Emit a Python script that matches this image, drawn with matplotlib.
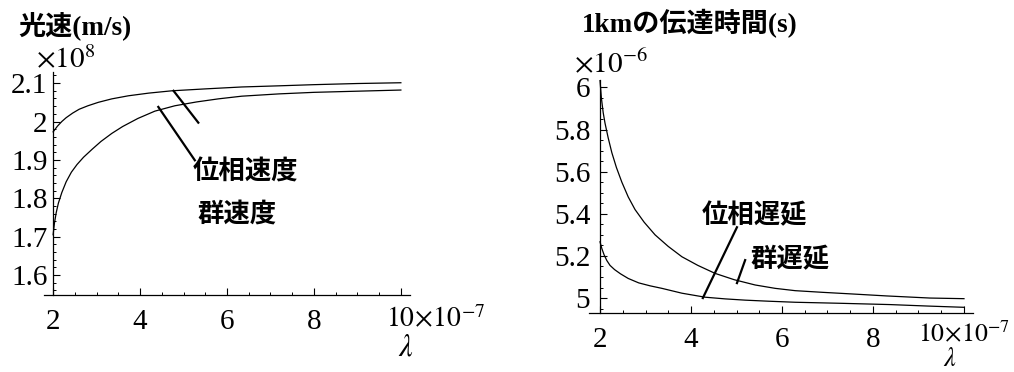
import matplotlib
matplotlib.use("Agg")
import matplotlib.pyplot as plt
from matplotlib.ticker import MultipleLocator, FixedLocator, FixedFormatter

plt.rcParams['font.family'] = ['Liberation Serif', 'Noto Sans CJK JP']
plt.rcParams['mathtext.fontset'] = 'stix'

# ------------------------------------------------------------------------------
# DATA  -- lambda in 1e-7 m, speed in 1e8 m/s, delay in 1e-6 s
# ------------------------------------------------------------------------------
lam_v_phase = [2.0, 2.1, 2.2, 2.3, 2.45, 2.6, 2.8, 3.04, 3.35, 3.73, 4.2, 4.73,
               5.5, 6.34, 7.2, 8.0, 9.0, 10.0]
v_phase = [1.973, 1.988, 2.000, 2.010, 2.022, 2.032, 2.041, 2.050, 2.059, 2.067,
           2.074, 2.080, 2.085, 2.090, 2.093, 2.096, 2.099, 2.101]

lam_v_group = [2.0, 2.03, 2.07, 2.12, 2.2, 2.3, 2.42, 2.55, 2.7, 2.9, 3.1, 3.35,
               3.6, 3.95, 4.34, 4.8, 5.3, 5.8, 6.34, 7.2, 8.0, 9.0, 10.0]
v_group = [1.705, 1.735, 1.762, 1.787, 1.815, 1.843, 1.868, 1.888, 1.907, 1.928,
           1.948, 1.969, 1.987, 2.008, 2.027, 2.041, 2.051, 2.059, 2.066, 2.072,
           2.076, 2.079, 2.082]

lam_d_group = [2.0, 2.03, 2.07, 2.11, 2.18, 2.26, 2.36, 2.48, 2.62, 2.77, 2.97,
               3.21, 3.5, 3.8, 4.15, 4.53, 4.95, 5.41, 5.85, 6.29, 6.9, 7.49,
               8.3, 9.25, 10.0]
d_group = [6.033, 5.95, 5.88, 5.83, 5.76, 5.69, 5.62, 5.55, 5.48, 5.42, 5.36,
           5.30, 5.245, 5.196, 5.155, 5.117, 5.087, 5.062, 5.046, 5.035, 5.027,
           5.020, 5.010, 5.000, 4.997]

lam_d_phase = [2.0, 2.04, 2.09, 2.15, 2.22, 2.32, 2.45, 2.62, 2.85, 3.1, 3.36,
               3.8, 4.31, 4.75, 5.19, 5.7, 6.29, 7.3, 8.37, 9.2, 10.0]
d_phase = [5.267, 5.235, 5.205, 5.178, 5.155, 5.135, 5.115, 5.093, 5.072, 5.058,
           5.046, 5.023, 5.004, 4.996, 4.990, 4.985, 4.980, 4.975, 4.969, 4.962,
           4.956]

x_ticks = [2, 4, 6, 8]
x_ticklabels = ["2", "4", "6", "8"]
v_ticks = [1.6, 1.7, 1.8, 1.9, 2.0, 2.1]
v_ticklabels = ["1.6", "1.7", "1.8", "1.9", "2", "2.1"]
d_ticks = [5.0, 5.2, 5.4, 5.6, 5.8, 6.0]
d_ticklabels = ["5", "5.2", "5.4", "5.6", "5.8", "6"]

W, H = 1014, 372
fig = plt.figure(figsize=(W / 100, H / 100), dpi=100)

def px(x0, y0, x1, y1):
    # pixel box -> figure fraction rect
    return [x0 / W, 1 - y1 / H, (x1 - x0) / W, (y1 - y0) / H]

def style_axes(ax, yticks, ylabels, yminor, ypad, xpad):
    for s in ['top', 'right']:
        ax.spines[s].set_visible(False)
    ax.spines['left'].set_position(('data', 2))
    for s in ['left', 'bottom']:
        ax.spines[s].set_linewidth(0.9)
    ax.xaxis.set_major_locator(FixedLocator(x_ticks + [10]))
    ax.xaxis.set_major_formatter(FixedFormatter(x_ticklabels + [""]))
    ax.xaxis.set_minor_locator(MultipleLocator(0.5))
    ax.yaxis.set_major_locator(FixedLocator(yticks))
    ax.yaxis.set_major_formatter(FixedFormatter(ylabels))
    ax.yaxis.set_minor_locator(MultipleLocator(yminor))
    ax.tick_params(which='major', direction='in', length=5, width=0.8, labelsize=21)
    ax.tick_params(which='minor', direction='in', length=2.5, width=0.7)
    ax.tick_params(axis='y', pad=ypad)
    ax.tick_params(axis='x', pad=xpad)

cjk = dict(family=['Noto Sans CJK JP'], fontweight='bold', fontsize=19)
mixed = dict(family=['Liberation Serif', 'Noto Sans CJK JP'], fontweight='bold', fontsize=19.5)

# ------------------------------------------------------------------------------
# LEFT: speed
# ------------------------------------------------------------------------------
ax1 = fig.add_axes(px(44, 72, 410, 295))
ax1.set_xlim(1.79, 10.21)
ax1.set_ylim(1.548, 2.129)
ax1.plot(lam_v_phase, v_phase, color='black', lw=0.9)
ax1.plot(lam_v_group, v_group, color='black', lw=0.9)
style_axes(ax1, v_ticks, v_ticklabels, 0.02, 4, 10)

ax1.plot([4.42, 5.26], [2.038, 1.899], color='black', lw=1.6)
ax1.plot([4.77, 5.34], [2.080, 1.997], color='black', lw=1.6)
ax1.text(5.22, 1.868, "位相速度", ha='left', va='center', **cjk)
ax1.text(5.31, 1.759, "群速度", ha='left', va='center', **cjk)

fig.text(18 / W, 1 - 26 / H, "光速(m/s)", ha='left', va='center', **mixed)
fig.text(36 / W, 1 - 60 / H, r"$\times 10^{8}$", ha='left', va='center', fontsize=21)
fig.text(386 / W, 1 - 320 / H, r"$10\!\times\! 10^{-7}$", ha='left', va='center', fontsize=20)
fig.text(406 / W, 1 - 348 / H, r"$\lambda$", ha='center', va='center', fontsize=22)

# ------------------------------------------------------------------------------
# RIGHT: delay per 1 km
# ------------------------------------------------------------------------------
ax2 = fig.add_axes(px(589, 80, 973, 313))
ax2.set_xlim(1.758, 10.198)
ax2.set_ylim(4.929, 6.035)
ax2.plot(lam_d_group, d_group, color='black', lw=0.9)
ax2.plot(lam_d_phase, d_phase, color='black', lw=0.9)
style_axes(ax2, d_ticks, d_ticklabels, 0.05, 7, 10)

ax2.plot([4.26, 5.01], [5.0, 5.336], color='black', lw=1.6)
ax2.plot([5.01, 5.19], [5.071, 5.180], color='black', lw=1.6)
ax2.text(4.24, 5.389, "位相遅延", ha='left', va='center', **cjk)
ax2.text(5.30, 5.180, "群遅延", ha='left', va='center', **cjk)

fig.text(582 / W, 1 - 24 / H, "1kmの伝達時間(s)", ha='left', va='center', **mixed)
fig.text(574 / W, 1 - 64 / H, r"$\times 10^{-6}$", ha='left', va='center', fontsize=21)
fig.text(918 / W, 1 - 334 / H, r"$10\!\times\! 10^{-7}$", ha='left', va='center', fontsize=18.5)
fig.text(950 / W, 1 - 360 / H, r"$\lambda$", ha='center', va='center', fontsize=19)

fig.savefig("out.png", dpi=100)
